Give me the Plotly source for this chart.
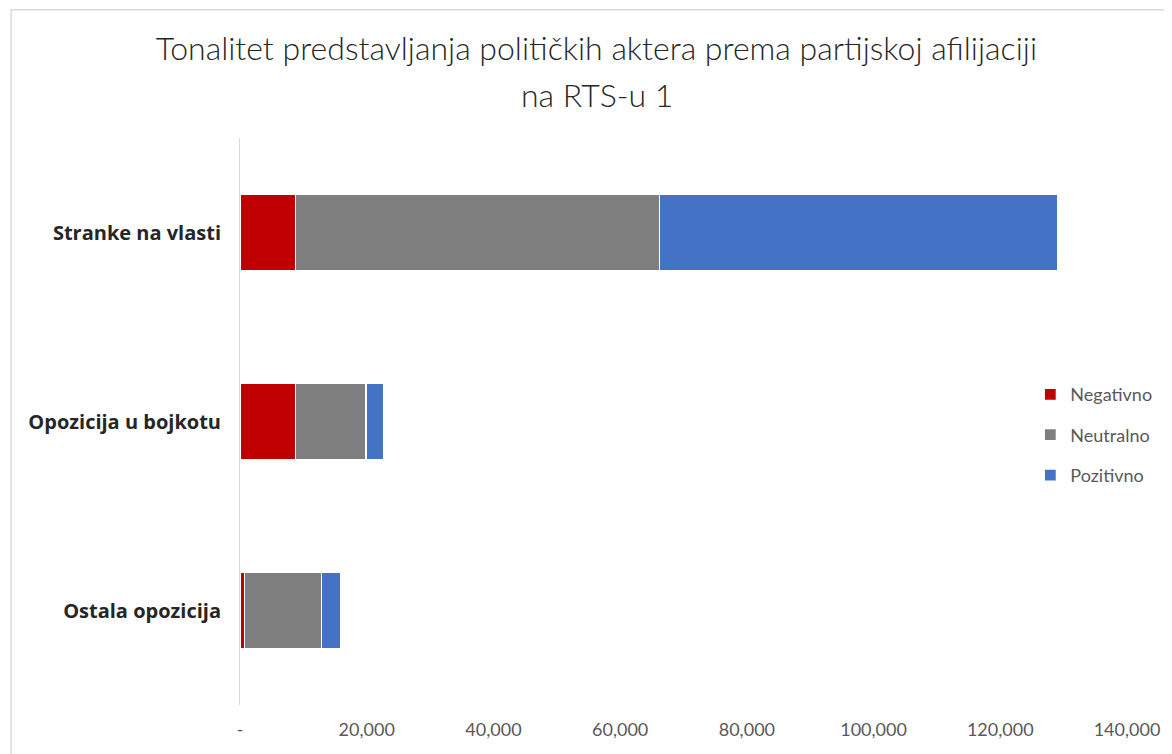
import plotly.graph_objects as go

categories = ["Stranke na vlasti", "Opozicija u bojkotu", "Ostala opozicija"]
negativno = [8800, 8800, 700]
neutralno = [57400, 11100, 12100]
pozitivno = [62800, 2800, 3100]

tick_vals = [0, 20000, 40000, 60000, 80000, 100000, 120000, 140000]
tick_text = ["-", "20,000", "40,000", "60,000", "80,000", "100,000", "120,000", "140,000"]

title_line1 = "Tonalitet predstavljanja političkih aktera prema partijskoj afilijaciji"
title_line2 = "na RTS-u 1"

series = [
    ("Negativno", negativno, "#c00000"),
    ("Neutralno", neutralno, "#7f7f7f"),
    ("Pozitivno", pozitivno, "#4472c4"),
]

fig = go.Figure()
for name, vals, color in series:
    fig.add_trace(go.Bar(
        y=categories, x=vals, name=name, orientation="h",
        marker=dict(color=color, line=dict(color="white", width=1.2)),
        legendgroup=name,
    ))

title_font = dict(size=32, color="#262626", family="Lato, Open Sans, sans-serif", weight=300)

fig.update_layout(
    width=1172, height=754,
    barmode="stack", bargap=0.6,
    paper_bgcolor="white", plot_bgcolor="white",
    margin=dict(l=232, r=53, t=130, b=57),
    font=dict(family="Lato, Open Sans, sans-serif", color="#595959"),
    title=dict(
        text=title_line1,
        x=0.502, xanchor="center", y=0.961, yanchor="top",
        font=title_font,
    ),
    legend=dict(
        x=0.891, xanchor="left", y=0.476, yanchor="middle",
        traceorder="grouped", tracegroupgap=14,
        font=dict(size=18, color="#595959"),
        itemwidth=30,
    ),
    xaxis=dict(
        range=[0, 140000], tickvals=tick_vals, ticktext=tick_text,
        showgrid=False, zeroline=False, showline=False,
        tickfont=dict(size=18, color="#595959"), ticklabelstandoff=12,
    ),
    yaxis=dict(
        autorange="reversed", showgrid=False, zeroline=False,
        showline=True, linecolor="#d9d9d9", linewidth=1,
        ticks="", ticklabelstandoff=14,
        tickfont=dict(size=20, color="#262626", family="Open Sans, sans-serif", weight="bold"),
    ),
    annotations=[dict(
        text=title_line2, xref="paper", yref="paper",
        x=0.402, xanchor="center", y=1.076, yanchor="middle",
        showarrow=False, font=title_font,
    )],
    shapes=[dict(
        type="rect", xref="paper", yref="paper",
        x0=-0.258, x1=1.2, y0=-0.2, y1=1.226,
        line=dict(color="#d9d9d9", width=1.5), fillcolor="rgba(0,0,0,0)",
    )],
)

fig.write_html("out.html")
